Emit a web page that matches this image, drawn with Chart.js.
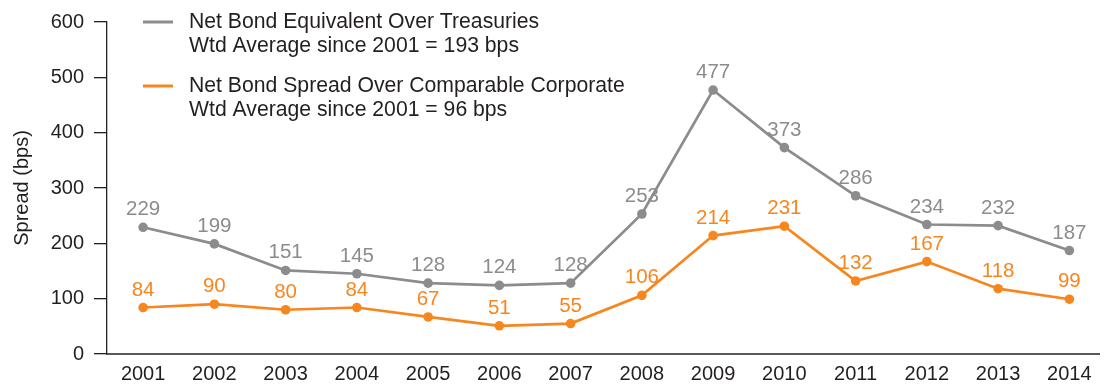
<!DOCTYPE html>
<html>
<head>
<meta charset="utf-8">
<script src="https://cdn.jsdelivr.net/npm/chart.js@4"></script>
<style>
  html, body { margin: 0; padding: 0; background: #ffffff; overflow: hidden; }
  #wrap { width: 1104px; height: 386px; position: relative; }
</style>
</head>
<body>
<div id="wrap"><canvas id="chart"></canvas></div>
<script>
// Spread of net bond yields, basis points, 2001-2014
const years = ['2001','2002','2003','2004','2005','2006','2007','2008','2009','2010','2011','2012','2013','2014'];
const treasurySpread = [229, 199, 151, 145, 128, 124, 128, 253, 477, 373, 286, 234, 232, 187];
const corporateSpread = [84, 90, 80, 84, 67, 51, 55, 106, 214, 231, 132, 167, 118, 99];
const yTicks = [0, 100, 200, 300, 400, 500, 600];
const treasuryLegend = ['Net Bond Equivalent Over Treasuries', 'Wtd Average since 2001 = 193 bps'];
const corporateLegend = ['Net Bond Spread Over Comparable Corporate', 'Wtd Average since 2001 = 96 bps'];
const yTitle = 'Spread (bps)';

const GREY = '#8b8c8e';
const ORANGE = '#f7861f';
const INK = '#231f20';
const FONT = '"Liberation Sans", Arial, Helvetica, sans-serif';
const FS = 20;

const toPoints = arr => arr.map((v, i) => ({ x: i, y: v }));

// Value labels above each point
const valueLabels = {
  id: 'valueLabels',
  afterDatasetsDraw(chart) {
    const ctx = chart.ctx;
    ctx.save();
    ctx.font = '20.5px ' + FONT;
    ctx.textAlign = 'center';
    ctx.textBaseline = 'alphabetic';
    chart.data.datasets.forEach((ds, di) => {
      const meta = chart.getDatasetMeta(di);
      ctx.fillStyle = ds.borderColor;
      meta.data.forEach((pt, i) => {
        ctx.fillText(String(ds.data[i].y), pt.x, pt.y - 12);
      });
    });
    ctx.restore();
  }
};

// Two-line legend entries in the upper left
const stackedLegend = {
  id: 'stackedLegend',
  afterDraw(chart) {
    const ctx = chart.ctx;
    const x0 = 143, x1 = 173, tx = 189;
    const tops = [22, 86];
    const lineGap = 24;
    ctx.save();
    ctx.font = '21.2px ' + FONT;
    ctx.textAlign = 'left';
    ctx.textBaseline = 'middle';
    chart.data.datasets.forEach((ds, di) => {
      const y = tops[di];
      ctx.strokeStyle = ds.borderColor;
      ctx.lineWidth = 3;
      ctx.beginPath();
      ctx.moveTo(x0, y);
      ctx.lineTo(x1, y);
      ctx.stroke();
      ctx.fillStyle = INK;
      ds.legendLines.forEach((line, li) => {
        ctx.fillText(line, tx, y + li * lineGap);
      });
    });
    ctx.restore();
  }
};

new Chart(document.getElementById('chart'), {
  type: 'line',
  data: {
    datasets: [
      {
        label: treasuryLegend[0],
        legendLines: treasuryLegend,
        data: toPoints(treasurySpread),
        borderColor: GREY,
        backgroundColor: GREY,
        borderWidth: 2.7,
        pointRadius: 4.8,
        pointBackgroundColor: GREY,
        pointBorderWidth: 0,
        tension: 0
      },
      {
        label: corporateLegend[0],
        legendLines: corporateLegend,
        data: toPoints(corporateSpread),
        borderColor: ORANGE,
        backgroundColor: ORANGE,
        borderWidth: 2.7,
        pointRadius: 4.8,
        pointBackgroundColor: ORANGE,
        pointBorderWidth: 0,
        tension: 0
      }
    ]
  },
  options: {
    responsive: true,
    maintainAspectRatio: false,
    animation: false,
    layout: { padding: { top: 17, right: 0, bottom: 0, left: 0 } },
    plugins: {
      legend: { display: false },
      tooltip: { enabled: false }
    },
    scales: {
      x: {
        type: 'linear',
        min: -0.507,
        max: 13.419,
        afterBuildTicks: scale => { scale.ticks = years.map((_, i) => ({ value: i })); },
        afterFit: scale => { scale.height = 32; },
        ticks: {
          autoSkip: false,
          maxRotation: 0,
          padding: 8,
          color: INK,
          font: { family: FONT, size: FS },
          callback: v => years[v]
        },
        grid: { display: false, drawTicks: false },
        border: { display: true, color: '#58595b', width: 2 }
      },
      y: {
        min: 0,
        max: 600,
        afterBuildTicks: scale => { scale.ticks = yTicks.map(v => ({ value: v })); },
        afterFit: scale => { scale.width = 107; },
        ticks: {
          padding: 10,
          color: INK,
          font: { family: FONT, size: FS }
        },
        grid: { drawOnChartArea: false, drawTicks: true, tickLength: 13, color: INK, lineWidth: 1.3 },
        border: { display: true, color: INK, width: 1.3 },
        title: {
          display: true,
          text: yTitle,
          color: INK,
          font: { family: FONT, size: FS },
          padding: { top: 10, bottom: 0 }
        }
      }
    }
  },
  plugins: [valueLabels, stackedLegend]
});
</script>
</body>
</html>
